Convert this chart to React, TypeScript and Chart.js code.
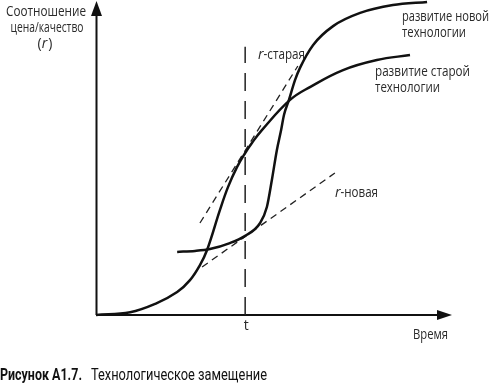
import React, { useEffect, useRef } from "react";
import { Chart, registerables } from "chart.js";

Chart.register(...registerables);

// Abstract units: time 0..100 (x-axis arrow tip at 100), ratio r 0..100 (y-axis arrow tip at 100)
const oldTechTime = [0, 9.6, 17.1, 22.8, 26.4, 29.2, 31.2, 34.8, 37.1, 39.6, 41.9, 43.8, 46.6, 54.5, 60.1, 69.4, 78.9, 88.2];
const oldTechRatio = [0, 0.9, 3.8, 7.3, 11.1, 15.9, 20.7, 33.4, 40.8, 47.1, 51.6, 54.8, 58.9, 68.5, 72.6, 78.0, 81.2, 82.8];

const newTechTime = [22.8, 27.8, 32.0, 37.6, 41.9, 46.1, 48.0, 49.4, 50.8, 52.0, 52.8, 54.2, 55.9, 57.3, 61.0, 66.6, 74.2, 83.4, 93.0];
const newTechRatio = [20.1, 20.4, 21.0, 22.9, 25.2, 29.3, 34.4, 43.0, 52.5, 58.9, 63.7, 68.5, 74.8, 78.7, 86.0, 92.0, 96.2, 98.7, 99.7];

const rOldTime = [29.2, 56.7];
const rOldRatio = [29.3, 79.3];
const rNewTime = [29.8, 67.1];
const rNewRatio = [15.3, 45.2];

const tTime = 41.9;
const tLineRatio = [0, 85.4];

const axisRange = [0, 100];

const yAxisTitle = ["Соотношение", "цена/качество"];
const newTechLabel = ["развитие новой", "технологии"];
const oldTechLabel = ["развитие старой", "технологии"];
const rOldLabel = "-старая";
const rNewLabel = "-новая";
const tLabel = "t";
const xAxisTitle = "Время";
const captionBold = "Рисунок А1.7.";
const captionText = "Технологическое замещение";

const pts = (xs: number[], ys: number[]) => xs.map((x, i) => ({ x, y: ys[i] }));

const LABEL_FONT = "14px 'Open Sans', 'Noto Sans', sans-serif";
const LABEL_ITALIC = "italic 14px 'Open Sans', 'Noto Sans', sans-serif";
const TEXT_COLOR = "#2a2a2a";

function fitText(
  ctx: CanvasRenderingContext2D,
  text: string,
  x: number,
  y: number,
  font: string,
  width: number | null,
  align: "left" | "center" = "left",
  baseline: CanvasTextBaseline = "middle",
  color: string = TEXT_COLOR
) {
  ctx.save();
  ctx.font = font;
  const w = ctx.measureText(text).width;
  const s = width ? width / w : 1;
  const real = w * s;
  const left = align === "center" ? x - real / 2 : x;
  ctx.translate(left, y);
  ctx.scale(s, 1);
  ctx.textAlign = "left";
  ctx.textBaseline = baseline;
  ctx.fillStyle = color;
  ctx.fillText(text, 0, 0);
  ctx.restore();
  return real;
}

const diagramPlugin = {
  id: "diagram",
  beforeDatasetsDraw(chart: any) {
    const { ctx } = chart;
    const xs = chart.scales.x;
    const ys = chart.scales.y;
    const x0 = xs.getPixelForValue(axisRange[0]);
    const xTip = xs.getPixelForValue(axisRange[1]);
    const y0 = ys.getPixelForValue(axisRange[0]);
    const yTip = ys.getPixelForValue(axisRange[1]);
    ctx.save();
    ctx.strokeStyle = "#111";
    ctx.fillStyle = "#111";
    ctx.lineWidth = 2;
    ctx.beginPath();
    ctx.moveTo(x0 + 0.5, y0);
    ctx.lineTo(x0 + 0.5, yTip + 10);
    ctx.moveTo(x0, y0);
    ctx.lineTo(xTip - 10, y0);
    ctx.stroke();
    // y arrow
    ctx.beginPath();
    ctx.moveTo(x0 + 0.5, yTip);
    ctx.lineTo(x0 + 6, yTip + 15);
    ctx.lineTo(x0 - 5, yTip + 15);
    ctx.closePath();
    ctx.fill();
    // x arrow
    ctx.beginPath();
    ctx.moveTo(xTip, y0);
    ctx.lineTo(xTip - 15, y0 - 5);
    ctx.lineTo(xTip - 15, y0 + 5);
    ctx.closePath();
    ctx.fill();
    ctx.restore();
  },
  afterDatasetsDraw(chart: any) {
    const { ctx } = chart;
    const xs = chart.scales.x;
    const ys = chart.scales.y;
    const x0 = xs.getPixelForValue(axisRange[0]);
    const y0 = ys.getPixelForValue(axisRange[0]);
    const tx = xs.getPixelForValue(tTime);

    // y axis title
    fitText(ctx, yAxisTitle[0], 46, 12, LABEL_FONT, 80, "center");
    fitText(ctx, yAxisTitle[1], 47, 28, LABEL_FONT, 73, "center");
    {
      ctx.save();
      ctx.font = LABEL_FONT;
      const wp = ctx.measureText("(").width;
      ctx.font = LABEL_ITALIC;
      const wr = ctx.measureText("r").width;
      ctx.restore();
      const total = wp * 2 + wr + 1;
      let left = 45 - total / 2;
      left += fitText(ctx, "(", left, 44, LABEL_FONT, null);
      left += fitText(ctx, "r", left, 44, LABEL_ITALIC, null) + 1;
      fitText(ctx, ")", left, 44, LABEL_FONT, null);
    }

    // curve labels
    fitText(ctx, newTechLabel[0], 402, 17, LABEL_FONT, 87);
    fitText(ctx, newTechLabel[1], 402, 33, LABEL_FONT, 64);
    fitText(ctx, oldTechLabel[0], 375, 72, LABEL_FONT, 95);
    fitText(ctx, oldTechLabel[1], 375, 88, LABEL_FONT, 65);

    // tangent labels
    {
      const w = fitText(ctx, "r", 258, 55, LABEL_ITALIC, null);
      fitText(ctx, rOldLabel, 258 + w, 55, LABEL_FONT, 47 - w);
    }
    {
      const w = fitText(ctx, "r", 335, 193, LABEL_ITALIC, null);
      fitText(ctx, rNewLabel, 335 + w, 193, LABEL_FONT, 43 - w);
    }

    // t and time
    fitText(ctx, tLabel, tx + 1, y0 + 11, LABEL_FONT, null, "center");
    fitText(ctx, xAxisTitle, 413, y0 + 20, LABEL_FONT, 35);

    // caption
    const capFontB = "bold 16px 'Roboto', 'Liberation Sans', sans-serif";
    const capFont = "16px 'Roboto', 'Liberation Sans', sans-serif";
    fitText(ctx, captionBold, x0 - 96, 380, capFontB, 82, "left", "alphabetic", "#111");
    fitText(ctx, captionText, x0 - 5, 380, capFont, 176, "left", "alphabetic", "#111");
  },
};

export default function App() {
  const canvasRef = useRef<HTMLCanvasElement | null>(null);

  useEffect(() => {
    const canvas = canvasRef.current;
    if (!canvas) return;
    const solid = (xs: number[], ys: number[], mode: "monotone" | "default", tension: number) => ({
      data: pts(xs, ys),
      borderColor: "#111",
      borderWidth: 2.5,
      pointRadius: 0,
      fill: false,
      cubicInterpolationMode: mode,
      tension,
      clip: false as any,
    });
    const dashed = (xs: number[], ys: number[], dash: number[], w: number) => ({
      data: pts(xs, ys),
      borderColor: "#222",
      borderWidth: w,
      borderDash: dash,
      pointRadius: 0,
      fill: false,
      tension: 0,
      clip: false as any,
    });
    const chart = new Chart(canvas, {
      type: "line",
      data: {
        datasets: [
          { label: "развитие старой технологии", ...solid(oldTechTime, oldTechRatio, "default", 0.4) },
          { label: "развитие новой технологии", ...solid(newTechTime, newTechRatio, "monotone", 0.4) },
          { label: "r-старая", ...dashed(rOldTime, rOldRatio, [7, 5], 1.3) },
          { label: "r-новая", ...dashed(rNewTime, rNewRatio, [7, 5], 1.3) },
          { label: "t", ...dashed([tTime, tTime], tLineRatio, [18, 10], 1.5) },
        ] as any,
      },
      options: {
        animation: false,
        responsive: false,
        maintainAspectRatio: false,
        layout: { padding: { left: 96, right: 40, top: 1, bottom: 69 } },
        scales: {
          x: { type: "linear", min: axisRange[0], max: axisRange[1], display: false },
          y: { type: "linear", min: axisRange[0], max: axisRange[1], display: false },
        },
        plugins: {
          legend: { display: false },
          tooltip: { enabled: false },
          title: { display: false },
        },
      },
      plugins: [diagramPlugin],
    });
    return () => chart.destroy();
  }, []);

  return (
    <div style={{ position: "fixed", left: 0, top: 0, width: 492, height: 384, background: "#fff" }}>
      <canvas ref={canvasRef} width={492} height={384} style={{ width: 492, height: 384, display: "block" }} />
    </div>
  );
}
